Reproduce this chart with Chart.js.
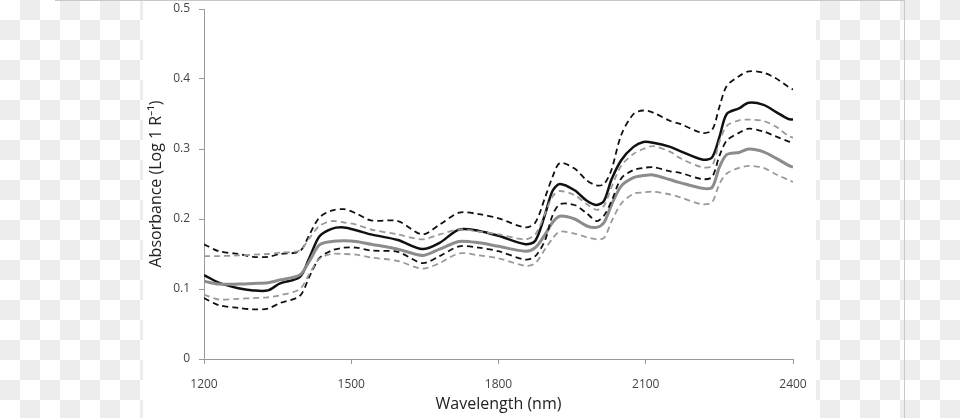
<!DOCTYPE html>
<html>
<head>
<meta charset="utf-8">
<script src="https://cdn.jsdelivr.net/npm/chart.js@4"></script>
<style>
  html, body { margin: 0; padding: 0; }
  body {
    width: 960px; height: 418px; position: relative; overflow: hidden;
    background-color: #fff;
    background-image: conic-gradient(#ededed 0 25%, #fff 0 50%, #ededed 0 75%, #fff 0);
    background-size: 40px 40px;
  }
  #panel { position: absolute; left: 143px; top: 0; width: 673px; height: 418px; background: #fff; }
  #topline { position: absolute; left: 55px; top: 0; width: 850px; height: 1px; background: #c8c8c8; }
  #rightline { position: absolute; left: 904px; top: 0; width: 1px; height: 418px; background: #c8c8c8; }
  canvas { position: absolute; left: 0; top: 0; }
</style>
</head>
<body>
<div id="panel"></div>
<div id="topline"></div>
<div id="rightline"></div>
<canvas id="specChart" width="960" height="418"></canvas>
<script>
// wavelength (nm)
const wavelengths = [1200, 1230, 1270, 1300, 1330, 1355, 1395, 1415, 1435, 1460, 1485, 1510, 1540, 1595, 1645,
  1680, 1720, 1760, 1800, 1855, 1875, 1895, 1910, 1925, 1955, 1980, 2000, 2015, 2030, 2050, 2075, 2095,
  2115, 2150, 2170, 2215, 2235, 2250, 2265, 2290, 2310, 2340, 2365, 2390, 2400];

// black: mean and +/- bounds
const blackMean = [0.120, 0.109, 0.101, 0.098, 0.098, 0.108, 0.117, 0.145, 0.175, 0.186, 0.188, 0.184, 0.178, 0.170, 0.157,
  0.166, 0.185, 0.183, 0.176, 0.164, 0.169, 0.207, 0.240, 0.250, 0.241, 0.226, 0.220, 0.226, 0.256, 0.284, 0.303, 0.310,
  0.309, 0.303, 0.297, 0.285, 0.288, 0.317, 0.350, 0.358, 0.366, 0.363, 0.353, 0.343, 0.342];
const blackUpper = [0.164, 0.154, 0.150, 0.146, 0.146, 0.150, 0.154, 0.178, 0.202, 0.212, 0.214, 0.208, 0.198, 0.197, 0.178,
  0.192, 0.209, 0.207, 0.201, 0.188, 0.195, 0.231, 0.260, 0.280, 0.272, 0.255, 0.248, 0.250, 0.270, 0.320, 0.350, 0.355,
  0.352, 0.340, 0.336, 0.323, 0.327, 0.360, 0.390, 0.404, 0.411, 0.409, 0.401, 0.389, 0.385];
const blackLower = [0.087, 0.077, 0.073, 0.071, 0.072, 0.080, 0.090, 0.118, 0.144, 0.155, 0.159, 0.159, 0.155, 0.153, 0.137,
  0.147, 0.161, 0.159, 0.154, 0.142, 0.147, 0.170, 0.205, 0.221, 0.220, 0.208, 0.197, 0.205, 0.225, 0.258, 0.270, 0.273,
  0.274, 0.268, 0.266, 0.257, 0.260, 0.290, 0.312, 0.323, 0.329, 0.325, 0.318, 0.311, 0.309];

// grey: mean and +/- bounds
const greyMean = [0.111, 0.107, 0.107, 0.108, 0.109, 0.113, 0.120, 0.140, 0.163, 0.168, 0.169, 0.168, 0.164, 0.157, 0.148,
  0.157, 0.168, 0.166, 0.161, 0.154, 0.159, 0.178, 0.195, 0.204, 0.200, 0.190, 0.188, 0.195, 0.220, 0.247, 0.259, 0.262,
  0.263, 0.256, 0.252, 0.244, 0.245, 0.274, 0.292, 0.295, 0.300, 0.296, 0.287, 0.277, 0.274];
const greyUpper = [0.147, 0.147, 0.148, 0.149, 0.150, 0.152, 0.155, 0.173, 0.190, 0.197, 0.195, 0.192, 0.185, 0.178, 0.171,
  0.178, 0.185, 0.182, 0.178, 0.171, 0.178, 0.208, 0.232, 0.240, 0.234, 0.221, 0.213, 0.219, 0.245, 0.276, 0.293, 0.300,
  0.304, 0.296, 0.287, 0.274, 0.276, 0.310, 0.333, 0.341, 0.342, 0.340, 0.332, 0.319, 0.316];
const greyLower = [0.092, 0.085, 0.086, 0.087, 0.088, 0.091, 0.100, 0.122, 0.143, 0.150, 0.150, 0.149, 0.145, 0.140, 0.129,
  0.137, 0.151, 0.148, 0.144, 0.133, 0.137, 0.157, 0.172, 0.182, 0.179, 0.174, 0.171, 0.173, 0.196, 0.222, 0.236, 0.238,
  0.239, 0.235, 0.231, 0.221, 0.224, 0.250, 0.265, 0.273, 0.276, 0.273, 0.264, 0.256, 0.253];

const xTicks = [1200, 1500, 1800, 2100, 2400];

function pts(vals) {
  return vals.map((v, i) => ({ x: wavelengths[i], y: v }));
}

function line(vals, color, width, dash) {
  return {
    data: pts(vals),
    borderColor: color,
    borderWidth: width,
    borderDash: dash || [],
    pointRadius: 0,
    tension: 0.3,
    fill: false
  };
}

const ctx = document.getElementById("specChart").getContext("2d");
new Chart(ctx, {
  type: "line",
  data: {
    datasets: [
      line(greyLower, "#999999", 1.8, [6, 4]),
      line(greyUpper, "#999999", 1.8, [6, 4]),
      line(blackLower, "#111111", 1.8, [6, 4]),
      line(blackUpper, "#111111", 1.8, [6, 4]),
      line(greyMean, "#8c8c8c", 3),
      line(blackMean, "#111111", 2.5)
    ]
  },
  options: {
    responsive: false,
    animation: false,
    layout: { padding: { left: 140, right: 167, top: 9, bottom: 0 } },
    plugins: {
      legend: { display: false },
      tooltip: { enabled: false }
    },
    scales: {
      x: {
        type: "linear",
        min: 1200,
        max: 2400,
        afterFit: s => { s.height = 59; s.paddingLeft = 0; s.paddingRight = 0; },
        afterBuildTicks: s => { s.ticks = xTicks.map(v => ({ value: v })); },
        ticks: {
          color: "#444", padding: 13, font: { family: "Open Sans", size: 12 },
          callback: v => String(v)
        },
        grid: { drawOnChartArea: false, drawTicks: true, tickLength: 5, color: "#999" },
        border: { color: "#999" },
        title: {
          display: true,
          text: "Wavelength (nm)",
          color: "#222",
          font: { family: "Open Sans", size: 16 },
          padding: { top: 0, bottom: 4 }
        }
      },
      y: {
        min: 0,
        max: 0.5,
        afterFit: s => { s.width = 64; s.paddingTop = 0; s.paddingBottom = 0; },
        ticks: {
          stepSize: 0.1, color: "#444", padding: 9, font: { family: "Open Sans", size: 12 },
          callback: v => String(Math.round(v * 10) / 10)
        },
        grid: { drawOnChartArea: false, drawTicks: true, tickLength: 5, color: "#999" },
        border: { color: "#999" },
        title: {
          display: true,
          text: "Absorbance (Log 1 R⁻¹)",
          color: "#222",
          font: { family: "Open Sans", size: 16 },
          padding: { top: 7, bottom: 0 }
        }
      }
    }
  }
});
</script>
</body>
</html>
